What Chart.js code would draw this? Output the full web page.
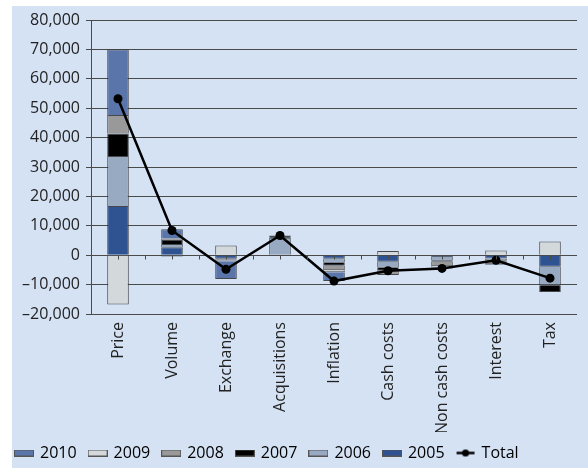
<!DOCTYPE html>
<html lang="en">
<head>
    <meta charset="UTF-8">
    <title>Cost variance by year</title>
    <script src="https://cdn.jsdelivr.net/npm/chart.js"></script>
    <style>
        html, body { margin: 0; padding: 0; background: #fff; }
        #wrap { position: relative; width: 588px; height: 468px; }
        #panel { position: absolute; left: 12px; top: 6px; right: 0; bottom: 0; background: #d4e2f4; }
        #chart { position: absolute; left: 0; top: 0; }
    </style>
</head>
<body>
    <div id="wrap">
        <div id="panel"></div>
        <canvas id="chart" width="588" height="468"></canvas>
    </div>

    <script>
        const categories = ['Price', 'Volume', 'Exchange', 'Acquisitions', 'Inflation', 'Cash costs', 'Non cash costs', 'Interest', 'Tax'];

        // contribution per year, null where a year has no segment
        const y2005 = [16750, 2700, -1200, null, -1200, -2200, -600, -1100, -3900];
        const y2006 = [16950, 1100, -300, 5900, -1400, -2100, -1300, -700, -6300];
        const y2007 = [7700, 1400, -300, 800, -1000, -1000, -300, -400, -2300];
        const y2008 = [6300, 500, -300, null, -1500, -1400, -1600, -900, null];
        const y2009 = [-16800, -400, 3300, null, -700, 1400, -400, 1600, 4700];
        const y2010 = [22300, 3100, -6000, null, -3000, null, -300, -200, null];
        const totals = [53200, 8400, -4800, 6700, -8800, -5300, -4500, -1700, -7800];

        const yTicks = [-20000, -10000, 0, 10000, 20000, 30000, 40000, 50000, 60000, 70000, 80000];

        const FONT = "'Open Sans', 'Noto Sans', sans-serif";
        const INK = '#222';
        const GRID = '#4a4a4a';

        // bottom-up stacking order, legend lists them newest first
        const years = [
            { label: '2005', data: y2005, color: '#2f5291' },
            { label: '2006', data: y2006, color: '#98a9c2' },
            { label: '2007', data: y2007, color: '#000000' },
            { label: '2008', data: y2008, color: '#999999' },
            { label: '2009', data: y2009, color: '#d3d8da' },
            { label: '2010', data: y2010, color: '#5a75aa' }
        ];

        function barSwatch(color) {
            const c = document.createElement('canvas');
            c.width = 20; c.height = 7;
            const g = c.getContext('2d');
            g.fillStyle = color;
            g.fillRect(0, 0, 20, 7);
            g.strokeStyle = '#555';
            g.lineWidth = 1;
            g.strokeRect(0.5, 0.5, 19, 6);
            return c;
        }

        function lineSwatch() {
            const c = document.createElement('canvas');
            c.width = 20; c.height = 9;
            const g = c.getContext('2d');
            g.strokeStyle = '#000';
            g.lineWidth = 2.5;
            g.beginPath(); g.moveTo(1, 4.5); g.lineTo(19, 4.5); g.stroke();
            g.fillStyle = '#000';
            g.beginPath(); g.arc(10, 4.5, 3.6, 0, Math.PI * 2); g.fill();
            return c;
        }

        const datasets = years.map(y => ({
            type: 'bar',
            label: y.label,
            data: y.data,
            backgroundColor: y.color,
            borderColor: 'rgba(45,45,45,0.85)',
            borderWidth: 1,
            barPercentage: 0.4,
            categoryPercentage: 1,
            stack: 'years',
            order: 1
        }));

        datasets.push({
            type: 'line',
            label: 'Total',
            data: totals,
            borderColor: '#000',
            backgroundColor: '#000',
            borderWidth: 2.5,
            pointRadius: 4.5,
            pointBackgroundColor: '#000',
            pointBorderWidth: 0,
            tension: 0,
            stack: 'total',
            order: 0
        });

        // small marks on the zero line every half category
        const zeroTicks = {
            id: 'zeroTicks',
            afterDatasetsDraw(chart) {
                const x = chart.scales.x, y = chart.scales.y;
                const y0 = Math.round(y.getPixelForValue(0)) + 0.5;
                const ctx = chart.ctx;
                ctx.save();
                ctx.strokeStyle = GRID;
                ctx.lineWidth = 1;
                ctx.beginPath();
                for (let i = 0; i < categories.length; i++) {
                    const c = x.getPixelForValue(i);
                    const half = (x.getPixelForValue(1) - x.getPixelForValue(0)) / 2;
                    [c - half, c].forEach(px => {
                        ctx.moveTo(Math.round(px) + 0.5, y0);
                        ctx.lineTo(Math.round(px) + 0.5, y0 + 4);
                    });
                }
                ctx.stroke();
                ctx.restore();
            }
        };

        Chart.defaults.font.family = FONT;
        Chart.defaults.color = INK;

        new Chart(document.getElementById('chart'), {
            data: { labels: categories, datasets: datasets },
            options: {
                responsive: false,
                animation: false,
                layout: { padding: { left: 3, right: 11, top: 20, bottom: -3 } },
                plugins: {
                    tooltip: { enabled: false },
                    legend: {
                        position: 'bottom',
                        align: 'start',
                        labels: {
                            font: { size: 16 },
                            color: INK,
                            usePointStyle: true,
                            pointStyleWidth: 16,
                            padding: 13,
                            generateLabels(chart) {
                                const byYear = years.slice().reverse().map(y => ({
                                    text: y.label,
                                    pointStyle: barSwatch(y.color),
                                    fillStyle: y.color,
                                    strokeStyle: '#555',
                                    lineWidth: 0,
                                    datasetIndex: years.indexOf(y)
                                }));
                                byYear.push({
                                    text: 'Total',
                                    pointStyle: lineSwatch(),
                                    fillStyle: '#000',
                                    strokeStyle: '#000',
                                    lineWidth: 0,
                                    datasetIndex: years.length
                                });
                                return byYear;
                            }
                        }
                    }
                },
                scales: {
                    x: {
                        stacked: true,
                        grid: { display: false, drawTicks: false },
                        border: { display: false },
                        ticks: {
                            font: { size: 16 },
                            color: INK,
                            minRotation: 90,
                            maxRotation: 90,
                            padding: 8,
                            autoSkip: false
                        },
                        afterFit(scale) { scale.height = 118; }
                    },
                    y: {
                        stacked: true,
                        min: -20000,
                        max: 80000,
                        afterBuildTicks(scale) { scale.ticks = yTicks.map(v => ({ value: v })); },
                        grid: { color: GRID, lineWidth: 1, tickLength: 5, drawTicks: true },
                        border: { display: true, color: GRID, width: 1 },
                        ticks: {
                            font: { size: 16 },
                            color: INK,
                            padding: 6,
                            callback: v => (v < 0 ? '\u2013' : '') + Math.abs(v).toLocaleString('en-US')
                        },
                        afterFit(scale) { scale.width = 88; }
                    }
                }
            },
            plugins: [zeroTicks]
        });
    </script>
</body>
</html>
